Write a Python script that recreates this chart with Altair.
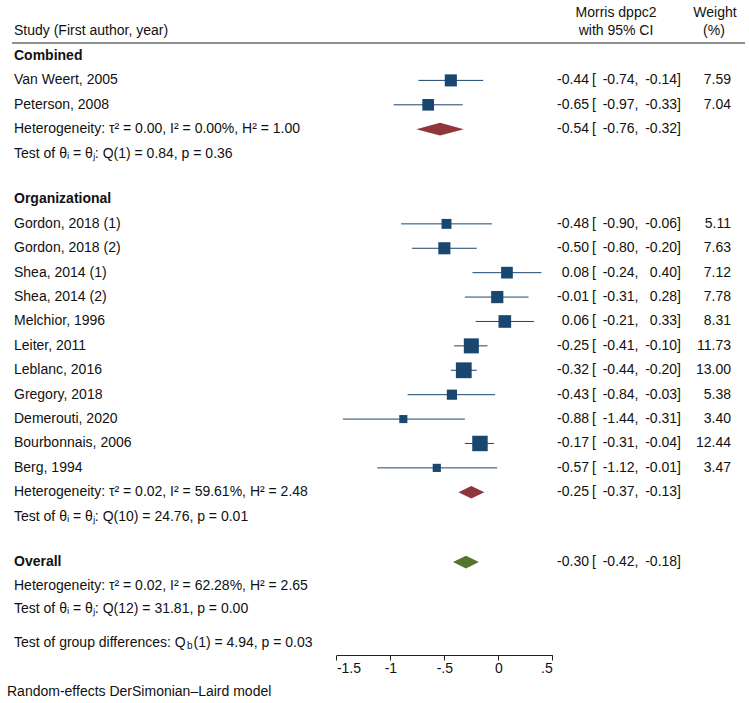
import altair as alt
import pandas as pd

FONT = "Liberation Sans"
FS = 14
TXT = "#111111"
NAVY = "#1a476f"
MAROON = "#90353b"
GREEN = "#55752f"

# ---------------- data ----------------
comb_study = ["Van Weert, 2005", "Peterson, 2008"]
comb_est = [-0.44, -0.65]
comb_lo = [-0.74, -0.97]
comb_hi = [-0.14, -0.33]
comb_w = [7.59, 7.04]

org_study = ["Gordon, 2018 (1)", "Gordon, 2018 (2)", "Shea, 2014 (1)", "Shea, 2014 (2)",
             "Melchior, 1996", "Leiter, 2011", "Leblanc, 2016", "Gregory, 2018",
             "Demerouti, 2020", "Bourbonnais, 2006", "Berg, 1994"]
org_est = [-0.48, -0.50, 0.08, -0.01, 0.06, -0.25, -0.32, -0.43, -0.88, -0.17, -0.57]
org_lo = [-0.90, -0.80, -0.24, -0.31, -0.21, -0.41, -0.44, -0.84, -1.44, -0.31, -1.12]
org_hi = [-0.06, -0.20, 0.40, 0.28, 0.33, -0.10, -0.20, -0.03, -0.31, -0.04, -0.01]
org_w = [5.11, 7.63, 7.12, 7.78, 8.31, 11.73, 13.00, 5.38, 3.40, 12.44, 3.47]

summ_name = ["Combined", "Organizational", "Overall"]
summ_est = [-0.54, -0.25, -0.30]
summ_lo = [-0.76, -0.37, -0.42]
summ_hi = [-0.32, -0.13, -0.18]

het_text = ["Heterogeneity: τ² = 0.00, I² = 0.00%, H² = 1.00",
            "Heterogeneity: τ² = 0.02, I² = 59.61%, H² = 2.48",
            "Heterogeneity: τ² = 0.02, I² = 62.28%, H² = 2.65"]
test_text = ["Test of θᵢ = θⱼ: Q(1) = 0.84, p = 0.36",
             "Test of θᵢ = θⱼ: Q(10) = 24.76, p = 0.01",
             "Test of θᵢ = θⱼ: Q(12) = 31.81, p = 0.00"]
group_test = ["Test of group differences: Q", "b", "(1) = 4.94, p = 0.03"]
footnote = "Random-effects DerSimonian–Laird model"

tick_vals = [-1.5, -1, -0.5, 0, 0.5]
tick_labels = ["-1.5", "-1", "-.5", "0", ".5"]

# ---------------- layout (row units) ----------------
GAP = 1.88
left, studies, summ = [], [], []
r = 0.0
left.append(dict(row=r, text="Combined", bold=1)); r += 1
for s, e, l, h, w in zip(comb_study, comb_est, comb_lo, comb_hi, comb_w):
    left.append(dict(row=r, text=s, bold=0))
    studies.append(dict(row=r, est=e, lo=l, hi=h, w=w)); r += 1
left.append(dict(row=r, text=het_text[0], bold=0))
summ.append(dict(row=r, k=0)); r += 1
left.append(dict(row=r, text=test_text[0], bold=0)); r += GAP
left.append(dict(row=r, text="Organizational", bold=1)); r += 1
for s, e, l, h, w in zip(org_study, org_est, org_lo, org_hi, org_w):
    left.append(dict(row=r, text=s, bold=0))
    studies.append(dict(row=r, est=e, lo=l, hi=h, w=w)); r += 1
left.append(dict(row=r, text=het_text[1], bold=0))
summ.append(dict(row=r, k=1)); r += 1
left.append(dict(row=r, text=test_text[1], bold=0)); r += GAP - 0.02
left.append(dict(row=r, text="Overall", bold=1))
summ.append(dict(row=r, k=2)); r += 0.97
left.append(dict(row=r, text=het_text[2], bold=0)); r += 0.95
left.append(dict(row=r, text=test_text[2], bold=0)); r += 1.4
group_row = r
r += 2.02
foot_row = r

left_df = pd.DataFrame(left)
st_df = pd.DataFrame(studies)
st_df["est_s"] = st_df["est"].map(lambda v: f"{v:.2f}")
st_df["lo_s"] = st_df["lo"].map(lambda v: f"{v:.2f},")
st_df["hi_s"] = st_df["hi"].map(lambda v: f"{v:.2f}]")
st_df["w_s"] = st_df["w"].map(lambda v: f"{v:.2f}")

sm_rows = []
dia_rows = []
H = 0.26
colors = [MAROON, MAROON, GREEN]
for d in summ:
    k = d["k"]
    sm_rows.append(dict(row=d["row"], est_s=f"{summ_est[k]:.2f}", lo_s=f"{summ_lo[k]:.2f},",
                        hi_s=f"{summ_hi[k]:.2f}]"))
    for x, hh in ((summ_lo[k], 0), (summ_est[k], H), (summ_hi[k], 0)):
        dia_rows.append(dict(name=summ_name[k], x=x, y=d["row"] - hh, y2=d["row"] + hh))
sm_df = pd.DataFrame(sm_rows)
dia_df = pd.DataFrame(dia_rows)
ci_df = pd.concat([st_df[["row", "est_s", "lo_s", "hi_s"]], sm_df], ignore_index=True)

# ---------------- scales ----------------
label_expr = " : ".join(f"datum.value == {v} ? '{t}'" for v, t in zip(tick_vals, tick_labels)) + " : ''"
xs = alt.Scale(domain=[-1.5, 0.5], range=[336.4, 552.3], zero=False, nice=False)
ys = alt.Scale(domain=[0, 10], range=[56, 300], zero=False, nice=False)
X = lambda f: alt.X(f, type="quantitative", scale=xs,
                    axis=alt.Axis(values=tick_vals, labelExpr=label_expr, title=None, grid=False,
                                  tickSize=5, domainColor="#222", tickColor="#222",
                                  labelColor=TXT, labelFont=FONT, labelFontSize=FS,
                                  labelPadding=1, domainWidth=1, tickWidth=1))
Y = lambda f: alt.Y(f, type="quantitative", scale=ys, axis=None)

def text_layer(df, field, xpx, align, bold=False, dy=0, fs=FS):
    return alt.Chart(df).mark_text(align=align, baseline="middle", font=FONT, fontSize=fs,
                                   color=TXT, fontWeight="bold" if bold else "normal", dy=dy).encode(
        x=alt.value(xpx), y=Y("row"), text=f"{field}:N")

ci_lines = alt.Chart(st_df).mark_rule(color=NAVY, strokeWidth=1).encode(
    x=X("lo"), x2="hi", y=Y("row"))
squares = alt.Chart(st_df).mark_square(color=NAVY, opacity=1, filled=True).encode(
    x=X("est"), y=Y("row"),
    size=alt.Size("w:Q", scale=alt.Scale(type="linear", domain=[0, 13], range=[0, 250], zero=True),
                  legend=None))
diamonds = alt.Chart(dia_df).mark_area(opacity=1).encode(
    x=X("x"), y=Y("y"), y2="y2", detail="name:N",
    color=alt.Color("name:N", scale=alt.Scale(domain=summ_name, range=colors), legend=None))

left_norm = text_layer(left_df[left_df.bold == 0], "text", 14, "left")
left_bold = text_layer(left_df[left_df.bold == 1], "text", 14, "left", bold=True)

grp_df = pd.DataFrame([dict(row=group_row, a=group_test[0], b=group_test[1], c=group_test[2])])
grp_a = text_layer(grp_df, "a", 14, "left")
grp_b = text_layer(grp_df, "b", 187, "left", dy=3, fs=10)
grp_c = text_layer(grp_df, "c", 193.5, "left")
foot = text_layer(pd.DataFrame([dict(row=foot_row, t=footnote)]), "t", 7, "left")

est_t = text_layer(ci_df, "est_s", 589, "right")
brk_t = alt.Chart(ci_df).mark_text(align="left", baseline="middle", font=FONT, fontSize=FS,
                                   color=TXT).encode(x=alt.value(592), y=Y("row"), text=alt.value("["))
lo_t = text_layer(ci_df, "lo_s", 638.5, "right")
hi_t = text_layer(ci_df, "hi_s", 681, "right")
w_t = text_layer(st_df, "w_s", 731, "right")

hdr_df = pd.DataFrame([
    dict(t="Study (First author, year)", x=14, y=31, a="left"),
    dict(t="Morris dppc2", x=616, y=12.5, a="center"),
    dict(t="with 95% CI", x=616, y=30.5, a="center"),
    dict(t="Weight", x=715, y=12.5, a="center"),
    dict(t="(%)", x=714, y=30.5, a="center"),
])
hdr_layers = []
for a in ["left", "center"]:
    sub = hdr_df[hdr_df.a == a]
    hdr_layers.append(alt.Chart(sub).mark_text(align=a, baseline="middle", font=FONT, fontSize=FS,
                                               color=TXT).encode(
        x=alt.X("x:Q", scale=None), y=alt.Y("y:Q", scale=None), text="t:N"))
hdr_line = alt.Chart(pd.DataFrame([dict(a=1)])).mark_rule(color="#222", strokeWidth=1.2).encode(
    x=alt.value(12), x2=alt.value(745), y=alt.value(43))

chart = alt.layer(
    ci_lines, squares, diamonds, left_norm, left_bold, grp_a, grp_b, grp_c, foot,
    est_t, brk_t, lo_t, hi_t, w_t, *hdr_layers, hdr_line
).properties(
    width=749, height=655,
    padding={"left": 0, "right": 0, "top": 0, "bottom": 48},
    autosize=alt.AutoSizeParams(type="none"),
    background="white",
).configure_view(stroke=None)

chart.save("out.html", embed_options={"renderer": "svg", "actions": False})
